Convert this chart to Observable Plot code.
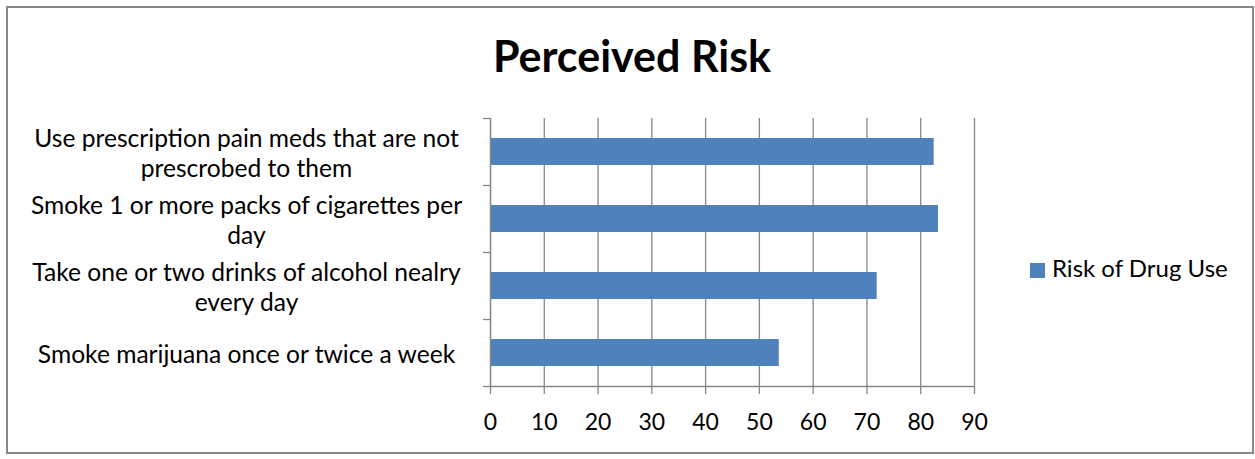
<!DOCTYPE html>
<html><head><meta charset="utf-8">
<script src="https://cdn.jsdelivr.net/npm/d3@7"></script>
<script src="https://cdn.jsdelivr.net/npm/@observablehq/plot@0.6"></script>
<style>
body{margin:0;background:#fff;}
#wrap{position:relative;width:1255px;height:459px;overflow:hidden;font-family:Lato,sans-serif;color:#000;}
#frame{position:absolute;left:6px;top:6px;width:1248px;height:448px;border:2px solid #878787;box-sizing:border-box;}
#title{position:absolute;left:0;width:1264px;top:34px;line-height:43px;text-align:center;font-weight:700;font-size:43px;white-space:nowrap;}
#chart{position:absolute;left:0;top:0;}
#legend{position:absolute;left:1030px;top:256px;width:220px;height:24px;font-size:24px;line-height:24px;white-space:nowrap;}
#legend .sw{position:absolute;left:0;top:7px;width:15px;height:15px;}
#legend .tx{position:absolute;left:22px;top:0;}
</style></head>
<body><div id="wrap"><div id="frame"></div><div id="chart"></div><div id="title"></div><div id="legend"></div></div>
<script>
const titleText = "Perceived Risk";
const seriesName = "Risk of Drug Use";
const categories = [
  "Use prescription pain meds that are not prescrobed to them",
  "Smoke 1 or more packs of cigarettes per day",
  "Take one or two drinks of alcohol nealry every day",
  "Smoke marijuana once or twice a week"
];
const tickLabels = [
  "Use prescription pain meds that are not\nprescrobed to them",
  "Smoke 1 or more packs of cigarettes per\nday",
  "Take one or two drinks of alcohol nealry\nevery day",
  "Smoke marijuana once or twice a week"
];
const values = [82.5, 83.3, 71.9, 53.7];
const xTicks = [0, 10, 20, 30, 40, 50, 60, 70, 80, 90];
const barColor = "#4F81BD";
const gridColor = "#878787";

const data = categories.map((c, i) => ({category: c, value: values[i]}));
const labelOf = new Map(categories.map((c, i) => [c, tickLabels[i]]));

const W = 1255, H = 459, mt = 118, mb = 73, ml = 490, mr = W - 974;
const step = (H - mt - mb) / categories.length;

const chart = Plot.plot({
  width: W, height: H,
  marginTop: mt, marginBottom: mb, marginLeft: ml, marginRight: mr,
  style: {fontFamily: "Lato, sans-serif", fontSize: "23px", color: "#000", background: "transparent", overflow: "visible"},
  x: {domain: [0, 90], ticks: xTicks, label: null},
  y: {domain: categories, paddingInner: 0.6, paddingOuter: 0.3, label: null},
  marks: [
    Plot.gridX(xTicks, {stroke: gridColor, strokeOpacity: 1, strokeWidth: 1.3}),
    Plot.barX(data, {x: "value", y: "category", fill: barColor}),
    Plot.ruleX([0], {stroke: gridColor, strokeWidth: 1.3}),
    Plot.ruleY([categories[categories.length - 1]], {stroke: gridColor, strokeWidth: 1.3, dy: step / 2}),
    Plot.axisY({tickSize: 7, tickFormat: () => "", stroke: gridColor, strokeWidth: 1.3, dy: -step / 2, label: null}),
    Plot.axisY([categories[categories.length - 1]], {tickSize: 7, tickFormat: () => "", stroke: gridColor, strokeWidth: 1.3, dy: step / 2, label: null}),
    Plot.axisY({tickSize: 0, tickPadding: 244, textAnchor: "middle", tickFormat: d => labelOf.get(d), fontSize: 24.6, lineHeight: 1.22, fill: "#000", label: null}),
    Plot.axisX(xTicks, {tickSize: 8, stroke: gridColor, strokeWidth: 1.3, tickPadding: 19, fontSize: 23, fill: "#000", label: null})
  ]
});
document.getElementById("chart").append(chart);
document.getElementById("title").textContent = titleText;
const lg = document.getElementById("legend");
const sw = document.createElement("span"); sw.className = "sw"; sw.style.background = barColor;
const tx = document.createElement("span"); tx.className = "tx"; tx.textContent = seriesName;
lg.append(sw, tx);
</script>
</body></html>
